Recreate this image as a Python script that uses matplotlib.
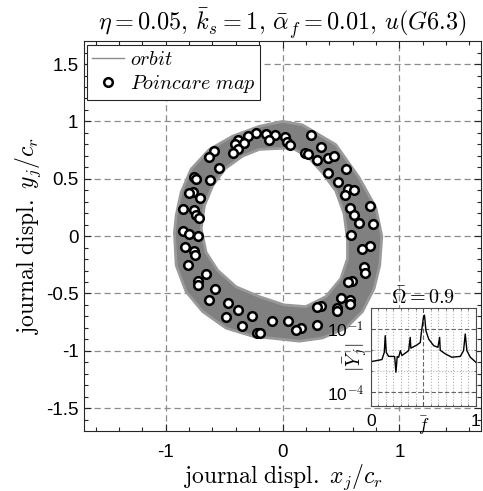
import numpy as np
import matplotlib.pyplot as plt
from matplotlib import font_manager
from matplotlib.path import Path
from matplotlib.patches import PathPatch
from matplotlib.ticker import FixedLocator, NullFormatter

# pick an Arial-like face if there is one
sans = 'DejaVu Sans'
for name in ['Liberation Sans', 'Arimo', 'Roboto']:
    try:
        font_manager.findfont(name, fallback_to_default=False)
        sans = name
        break
    except ValueError:
        pass
plt.rcParams['font.family'] = [sans, 'DejaVu Sans']
plt.rcParams['mathtext.fontset'] = 'cm'

# orbit band: outer and inner edge of the trajectory cloud
outer_x = [0.85, 0.798, 0.656, 0.456, 0.171, 0.0, -0.199, -0.427, -0.626, -0.783, -0.868,
           -0.911, -0.926, -0.911, -0.826, -0.684, -0.484, -0.256, 0.0, 0.143, 0.342,
           0.542, 0.684, 0.784, 0.832]
outer_y = [0.0, 0.25, 0.509, 0.797, 0.969, 1.0, 0.957, 0.871, 0.756, 0.584, 0.383,
           0.181, 0.03, -0.255, -0.485, -0.658, -0.802, -0.873, -0.90, -0.916, -0.888,
           -0.802, -0.658, -0.457, -0.255]
inner_x = [0.556, 0.527, 0.456, 0.342, 0.228, 0.083, -0.199, -0.342, -0.49, -0.598, -0.669,
           -0.697, -0.655, -0.556, -0.398, -0.199, 0.015, 0.2, 0.371, 0.499, 0.556]
inner_y = [-0.037, 0.196, 0.394, 0.552, 0.681, 0.77, 0.756, 0.698, 0.59, 0.44, 0.267,
           0.066, -0.141, -0.298, -0.442, -0.528, -0.60, -0.615, -0.528, -0.371, -0.198]

# poincare map points
pm_x = [-0.227, -0.142, -0.065, -0.120, -0.293, -0.379, -0.327, -0.404, -0.385, -0.427,
        -0.590, -0.632, -0.541, -0.621, -0.761, -0.740, -0.769, -0.797, -0.706, -0.855,
        -0.761, -0.740, -0.718, -0.855, -0.803, -0.726,
        0.021, 0.034, 0.066, 0.243, 0.328, 0.194, 0.214, 0.294, 0.385, 0.442,
        0.547, 0.385, 0.476, 0.562, 0.613, 0.533, 0.576, 0.747, 0.613, 0.656,
        0.778, 0.585,
        -0.834, -0.755, -0.746, -0.812, -0.655, -0.726, -0.721, -0.578, -0.632, -0.470,
        -0.385, -0.484, -0.265, -0.347, -0.219, -0.191, -0.091,
        0.747, 0.684, 0.698, 0.704, 0.593, 0.562, 0.504, 0.576, 0.576, 0.470,
        0.465, 0.328, 0.294, 0.294, 0.157, 0.115, 0.049]
pm_y = [0.900, 0.891, 0.877, 0.836, 0.871, 0.842, 0.814, 0.799, 0.756, 0.728,
        0.741, 0.690, 0.598, 0.489, 0.517, 0.497, 0.388, 0.374, 0.331, 0.239,
        0.224, 0.187, 0.159, 0.043, 0.015, 0.003,
        0.866, 0.819, 0.791, 0.877, 0.776, 0.728, 0.713, 0.664, 0.684, 0.698,
        0.584, 0.547, 0.469, 0.411, 0.403, 0.362, 0.247, 0.262, 0.187, 0.116,
        0.103, 0.009,
        -0.097, -0.134, -0.164, -0.255, -0.328, -0.391, -0.428, -0.462, -0.560, -0.580,
        -0.643, -0.709, -0.695, -0.781, -0.845, -0.845, -0.744,
        -0.083, -0.112, -0.270, -0.322, -0.393, -0.399, -0.543, -0.557, -0.591, -0.623,
        -0.649, -0.606, -0.615, -0.778, -0.802, -0.822, -0.738]

# amplitude spectrum (inset), log10 of |Y_j|
spec_f = [0.01, 0.105, 0.127, 0.136, 0.146, 0.168, 0.2, 0.226, 0.238, 0.25, 0.264, 0.28,
          0.295, 0.359, 0.374, 0.38, 0.438, 0.47, 0.48, 0.502, 0.51, 0.524, 0.55, 0.597,
          0.638, 0.654, 0.66, 0.708, 0.771, 0.851, 0.882, 0.898, 0.914, 0.946, 1.0]
spec_log = [-2.53, -2.44, -2.1, -1.31, -2.1, -2.29, -2.29, -2.3, -3.04, -2.3, -2.33, -2.02,
            -2.25, -2.02, -1.39, -1.9, -1.75, -1.63, -1.16, -0.38, -0.34, -1.08, -1.47, -1.78,
            -1.86, -1.39, -2.0, -2.17, -2.33, -2.29, -2.02, -1.23, -2.02, -2.33, -2.57]

fig = plt.figure(figsize=(4.83, 4.91), dpi=100)
ax = fig.add_axes([0.174, 0.122, 0.822, 0.7943])

# band with a hole: outer ring + inner ring as one compound path
verts = list(zip(outer_x, outer_y)) + [(outer_x[0], outer_y[0])]
codes = [Path.MOVETO] + [Path.LINETO] * (len(outer_x) - 1) + [Path.CLOSEPOLY]
inner = list(zip(inner_x, inner_y))[::-1]
verts += inner + [inner[0]]
codes += [Path.MOVETO] + [Path.LINETO] * (len(inner) - 1) + [Path.CLOSEPOLY]
band = PathPatch(Path(verts, codes), facecolor='0.5', edgecolor='0.6', lw=2,
                 joinstyle='round', zorder=2)
ax.add_patch(band)

ax.plot([], [], color='0.55', lw=1, label=r'$orbit$')
ax.plot(pm_x, pm_y, 'o', ls='none', mfc='white', mec='black', ms=6.2, mew=1.8,
        zorder=3, label=r'$Poincare\ map$')

ax.set_xlim(-1.7, 1.7)
ax.set_ylim(-1.7, 1.7)
ax.set_xticks([-1, 0, 1])
ax.set_xticklabels(['-1', '0', '1'])
ax.set_yticks([-1.5, -1, -0.5, 0, 0.5, 1, 1.5])
ax.set_yticklabels(['-1.5', '-1', '-0.5', '0', '0.5', '1', '1.5'])
ax.xaxis.set_minor_locator(FixedLocator(np.arange(-1.6, 1.61, 0.2)))
ax.yaxis.set_minor_locator(FixedLocator(np.arange(-1.6, 1.61, 0.1)))
ax.tick_params(which='both', direction='in', top=True, right=True, labelsize=13.5,
               color='0.15', width=0.8)
ax.tick_params(axis='x', which='major', pad=9)
ax.tick_params(axis='y', which='major', pad=4)
ax.tick_params(which='major', length=5)
ax.tick_params(which='minor', length=3)
ax.grid(True, which='major', ls=(0, (5, 3)), color='0.55', lw=0.9)
for s in ax.spines.values():
    s.set_color('0.15')
    s.set_linewidth(0.8)

ax.set_title(r'$\eta = 0.05,\, \bar{k}_s = 1,\, \bar{\alpha}_f = 0.01,\, u(G6.3)$',
             fontsize=17.5, pad=4)
ax.set_xlabel(r'$\mathrm{journal\ displ.}\ x_j/c_r$', fontsize=17, labelpad=1)
ax.set_ylabel(r'$\mathrm{journal\ displ.}\ y_j/c_r$', fontsize=17, labelpad=2)

leg = ax.legend(loc='upper left', bbox_to_anchor=(0.008, 0.99), borderaxespad=0,
                fontsize=14.5, fancybox=False, framealpha=1, edgecolor='0.15',
                handlelength=1.6, handletextpad=0.25, borderpad=0.25, labelspacing=0.2)
leg.get_frame().set_linewidth(0.8)

# inset spectrum
ax2 = fig.add_axes([0.768, 0.174, 0.2174, 0.1986])
ax2.semilogy(spec_f, 10 ** np.array(spec_log), color='black', lw=1)
ax2.set_xlim(0, 1)
ax2.set_ylim(2.4e-5, 1)
ax2.set_xticks([0, 0.5, 1])
ax2.set_xticklabels(['0', r'$\bar{f}$', '1'])
ax2.xaxis.set_minor_locator(FixedLocator(np.arange(1, 14) / 14))
ax2.set_yticks([1e-4, 1e-1])
ax2.set_yticklabels([r'10$^{\mathsf{-4}}$', r'10$^{\mathsf{-1}}$'])
ax2.yaxis.set_minor_locator(FixedLocator([1e-3, 1e-2]))
ax2.yaxis.set_minor_formatter(NullFormatter())
ax2.tick_params(which='both', direction='in', top=True, right=True, labelsize=12.5,
                color='0.3', width=0.6)
ax2.tick_params(axis='x', pad=6)
ax2.tick_params(axis='y', pad=5)
ax2.tick_params(which='major', length=3)
ax2.tick_params(which='minor', length=1.5)
ax2.grid(True, which='major', ls=(0, (4, 2)), color='0.4', lw=0.8)
ax2.grid(True, which='minor', ls=':', color='0.7', lw=0.8)
for s in ax2.spines.values():
    s.set_color('0.3')
    s.set_linewidth(0.8)
ax2.set_ylabel(r'$|\bar{Y}_j|$', fontsize=14)
ax2.yaxis.set_label_coords(-0.015, 0.5)
ax2.set_title(r'$\bar{\Omega} = 0.9$', fontsize=14.5, pad=1)

fig.savefig('out.png', dpi=100)
